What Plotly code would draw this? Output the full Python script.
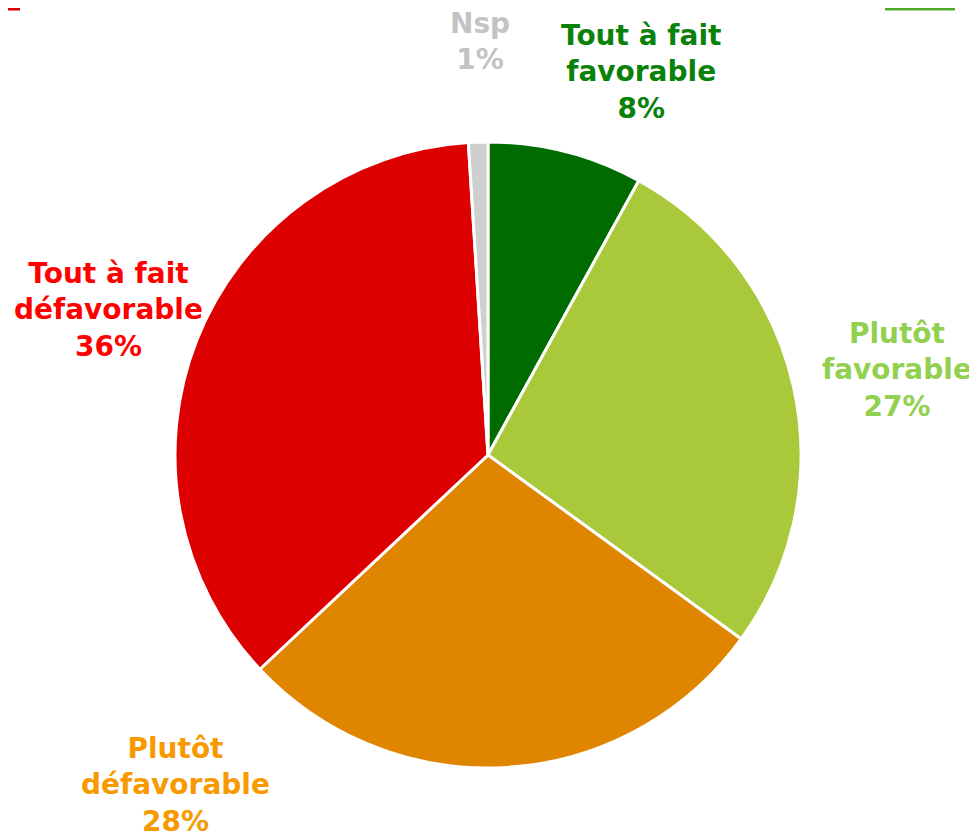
import plotly.graph_objects as go

# Données
categories = ["Tout à fait favorable", "Plutôt favorable", "Plutôt défavorable",
              "Tout à fait défavorable", "Nsp"]
valeurs = [8, 27, 28, 36, 1]
etiquettes = ["Tout à fait<br>favorable", "Plutôt<br>favorable", "Plutôt<br>défavorable",
              "Tout à fait<br>défavorable", "Nsp"]
total_favorable = valeurs[0] + valeurs[1]
total_defavorable = valeurs[2] + valeurs[3]

couleurs_parts = ["#006c00", "#a9c93a", "#e08500", "#dc0000", "#cfcfcf"]
couleurs_textes = ["#0a820a", "#92d050", "#f79a00", "#ff0000", "#c3c3c3"]

W, H = 977, 838
OFF = 8  # marge du body html
cx, cy, r = 488 - OFF, 455 - OFF, 313

fig = go.Figure(go.Pie(
    labels=categories, values=valeurs, sort=False, direction="clockwise",
    rotation=0, textinfo="none", hoverinfo="label+percent",
    marker=dict(colors=couleurs_parts, line=dict(color="white", width=3)),
    domain=dict(x=[(cx - r) / W, (cx + r) / W], y=[(H - cy - r) / H, (H - cy + r) / H]),
    showlegend=False,
))

# position des étiquettes (pixels, centre du bloc)
pos = [(641, 72), (897, 370), (175, 785), (108, 310), (480, 42)]
police = "DejaVu Sans"
for lab, v, c, (px_, py_) in zip(etiquettes, valeurs, couleurs_textes, pos):
    fig.add_annotation(x=(px_ - OFF) / W, y=1 - (py_ - OFF) / H, xref="paper", yref="paper",
                       xanchor="center", yanchor="middle",
                       text="<b>%s<br>%d%%</b>" % (lab, v), showarrow=False,
                       font=dict(family=police, size=28, color=c), align="center")

# totaux coupés en haut
fig.add_annotation(x=12 / W, y=1 + 6 / H, xref="paper", yref="paper", xanchor="right",
                   yanchor="bottom", text="<b>%d%%</b>" % total_defavorable, showarrow=False,
                   font=dict(family=police, size=28, color="#d80000"))
fig.add_annotation(x=909 / W, y=1 + 6 / H, xref="paper", yref="paper", xanchor="center",
                   yanchor="bottom", text="<b>%d%%</b>" % total_favorable, showarrow=False,
                   font=dict(family=police, size=28, color="#4faa28"))
fig.add_shape(type="rect", xref="paper", yref="paper", x0=0, x1=12 / W,
              y0=1 - 2.5 / H, y1=1, fillcolor="#d80000", line_width=0)
fig.add_shape(type="rect", xref="paper", yref="paper", x0=877 / W, x1=947 / W,
              y0=1 - 2.5 / H, y1=1, fillcolor="#4faa28", line_width=0)

fig.update_layout(width=W, height=H, margin=dict(l=0, r=0, t=0, b=0),
                  paper_bgcolor="white", plot_bgcolor="white")

fig.write_html("out.html")
